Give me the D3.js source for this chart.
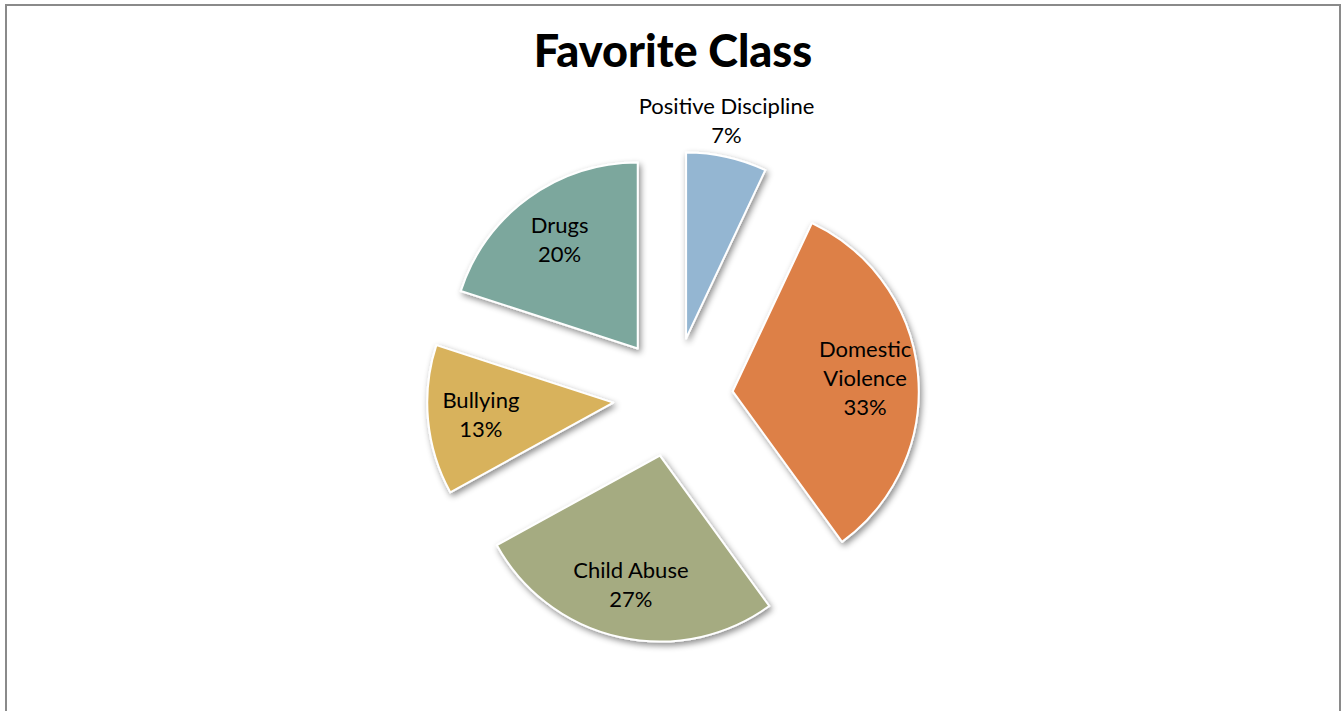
<!DOCTYPE html>
<html><head><meta charset="utf-8">
<script src="https://cdn.jsdelivr.net/npm/d3@7"></script>
<style>html,body{margin:0;padding:0;background:#fff;overflow:hidden}</style>
</head><body>
<svg id="chart" width="1343" height="711"></svg>
<script>
const categories = ["Positive Discipline", "Domestic Violence", "Child Abuse", "Bullying", "Drugs"];
const values = [7, 33, 27, 13, 20];
const percentLabels = ["7%", "33%", "27%", "13%", "20%"];
const labelLines = [["Positive Discipline"], ["Domestic", "Violence"], ["Child Abuse"], ["Bullying"], ["Drugs"]];
const colors = ["#94B6D2", "#DD8047", "#A5AB81", "#D8B25C", "#7BA79D"];
const title = "Favorite Class";

const svg = d3.select("#chart");
const W = 1343, H = 711;
svg.append("rect").attr("x", 0).attr("y", 0).attr("width", W).attr("height", H).attr("fill", "#fff");
svg.append("rect").attr("x", 6).attr("y", 5).attr("width", 1334).attr("height", 720)
  .attr("fill", "none").attr("stroke", "#8a8a8a").attr("stroke-width", 2);

const defs = svg.append("defs");
const f = defs.append("filter").attr("id", "shadow").attr("x", "-20%").attr("y", "-20%").attr("width", "140%").attr("height", "140%");
f.append("feDropShadow").attr("dx", 2).attr("dy", 3).attr("stdDeviation", 3).attr("flood-color", "#000").attr("flood-opacity", 0.45);

svg.append("text").attr("x", 673).attr("y", 67).attr("text-anchor", "middle")
  .attr("font-family", "Lato, 'Open Sans', sans-serif").attr("font-weight", 900).attr("font-size", 45)
  .attr("fill", "#000").text(title);

const cx = 673, cy = 397, R = 186, explode = 60, labelR = 133;
const pie = d3.pie().sort(null).value(d => d)(values);
const arc = d3.arc().innerRadius(0).outerRadius(R);
const labelArc = d3.arc().innerRadius(labelR).outerRadius(labelR);
const outArc = d3.arc().innerRadius(R + 36).outerRadius(R + 36);

const g = svg.append("g").attr("transform", `translate(${cx},${cy})`);
const slices = g.selectAll("g.slice").data(pie).enter().append("g")
  .attr("transform", d => {
    const a = (d.startAngle + d.endAngle) / 2;
    return `translate(${explode * Math.sin(a)},${-explode * Math.cos(a)})`;
  });
slices.append("path").attr("d", arc).attr("fill", (d, i) => colors[i])
  .attr("stroke", "#fff").attr("stroke-width", 2).attr("stroke-linejoin", "round")
  .attr("filter", "url(#shadow)");

slices.each(function (d, i) {
  const sel = d3.select(this);
  const outside = d.endAngle - d.startAngle < 0.5;
  let [x, y] = outside ? outArc.centroid(d) : labelArc.centroid(d);
  if (outside) x -= 8;
  const lines = labelLines[i].concat([percentLabels[i]]);
  const lh = 29;
  const y0 = y - (lines.length - 1) * lh / 2 + 7;
  const t = sel.append("text").attr("text-anchor", "middle")
    .attr("font-family", "Lato, 'Open Sans', sans-serif").attr("font-size", 22).attr("fill", "#000");
  lines.forEach((ln, k) => t.append("tspan").attr("x", x).attr("y", y0 + k * lh).text(ln));
});
</script>
</body></html>
